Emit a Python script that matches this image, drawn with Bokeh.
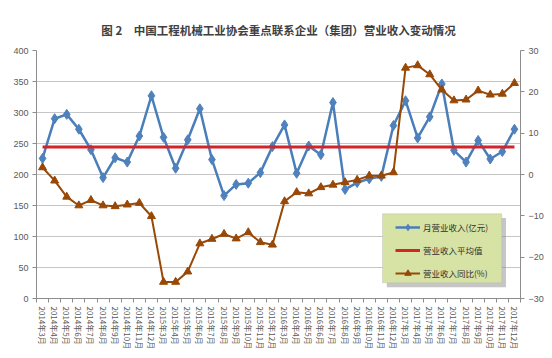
from bokeh.plotting import figure
from bokeh.models import (Range1d, LinearAxis, FixedTicker, Legend, LegendItem,
                          BoxAnnotation)
from bokeh.embed import file_html
from bokeh.resources import INLINE

# ---------------- data ----------------
years = [2014, 2015, 2016, 2017]
month_nums = [3, 4, 5, 6, 7, 8, 9, 10, 11, 12]
months = [f"{y}年{m}月" for y in years for m in month_nums]

# 月营业收入 (亿元), left axis
revenue = [226, 290, 297, 273, 240, 195, 227, 220, 262, 327,
           260, 210, 256, 306, 224, 166, 184, 186, 203, 245,
           280, 202, 246, 232, 316, 176, 187, 193, 197, 279,
           319, 259, 293, 346, 239, 220, 255, 225, 237, 273]

# 营业收入平均值 (亿元)
avg_revenue = 244.5

# 营业收入同比 (%), right axis
yoy = [1.7, -1.5, -5.4, -7.5, -6.2, -7.5, -7.7, -7.3, -6.9, -10.1,
       -26.0, -26.0, -23.5, -16.7, -15.6, -14.4, -15.5, -14.0, -16.4, -17.0,
       -6.5, -4.3, -4.6, -3.1, -2.5, -1.9, -1.3, -0.3, -0.3, 0.5,
       25.8, 26.4, 24.2, 20.5, 17.9, 18.1, 20.3, 19.3, 19.5, 22.1]

left_ticks = [0, 50, 100, 150, 200, 250, 300, 350, 400]
right_ticks = [-30, -20, -10, 0, 10, 20, 30]

title_text = "图 2　中国工程机械工业协会重点联系企业（集团）营业收入变动情况"
legend_labels = ["月营业收入(亿元)", "营业收入平均值", "营业收入同比(%)"]

# ---------------- styles ----------------
BLUE = "#4a7ebb"
RED = "#d0252b"
BROWN = "#984807"
GRID = "#c6c6c6"
AXIS = "#8c8c8c"
TXT = "#595959"
CJK = "Noto Sans CJK SC"

x = list(range(len(months)))

p = figure(width=552, height=358, output_backend="svg", toolbar_location=None,
           x_range=Range1d(-0.5, len(months) - 0.5), y_range=Range1d(0, 400),
           min_border_left=36, min_border_right=32, min_border_top=50,
           min_border_bottom=60)
p.extra_y_ranges = {"pct": Range1d(-30, 30)}
p.outline_line_color = None
p.background_fill_color = "white"
p.border_fill_color = "white"

# title
p.title.text = title_text
p.title.align = "center"
p.title.text_font = CJK
p.title.text_font_size = "11.5px"
p.title.text_font_style = "bold"
p.title.text_color = "#404040"
p.title.standoff = 26

# x axis
xa = p.xaxis[0]
xa.ticker = FixedTicker(ticks=x, minor_ticks=[i - 0.5 for i in range(len(months) + 1)])
xa.major_label_overrides = {i: lbl for i, lbl in enumerate(months)}
xa.major_label_orientation = "vertical"
xa.major_label_text_font = CJK
xa.major_label_text_font_size = "8px"
xa.major_label_text_color = TXT
xa.major_tick_line_color = None
xa.major_tick_out = 0
xa.minor_tick_in = 0
xa.minor_tick_out = 4
xa.minor_tick_line_color = AXIS
xa.axis_line_color = AXIS
xa.major_label_standoff = 4

# left axis
ya = p.yaxis[0]
ya.ticker = FixedTicker(ticks=left_ticks)
ya.major_label_text_font = "Liberation Sans"
ya.major_label_text_font_size = "9px"
ya.major_label_text_color = TXT
ya.axis_line_color = AXIS
ya.major_tick_line_color = AXIS
ya.major_tick_out = 4
ya.major_tick_in = 0
ya.minor_tick_line_color = None
ya.major_label_standoff = 4

# right axis
ra = LinearAxis(y_range_name="pct", ticker=FixedTicker(ticks=right_ticks))
ra.major_label_text_font = "Liberation Sans"
ra.major_label_text_font_size = "9px"
ra.major_label_text_color = TXT
ra.axis_line_color = AXIS
ra.major_tick_line_color = AXIS
ra.major_tick_out = 4
ra.major_tick_in = 0
ra.minor_tick_line_color = None
ra.major_label_standoff = 4
p.add_layout(ra, "right")

p.xgrid.visible = False
p.ygrid.ticker = FixedTicker(ticks=left_ticks)
p.ygrid.grid_line_color = GRID
p.ygrid.grid_line_width = 1

# series
r_blue_l = p.line(x, revenue, line_color=BLUE, line_width=2.5)
r_blue_m = p.scatter(x, revenue, marker="diamond", size=10,
                     fill_color="#4f81bd", line_color="#4f81bd")
r_red = p.line(x, [avg_revenue] * len(x), line_color=RED, line_width=3)
r_br_l = p.line(x, yoy, y_range_name="pct", line_color=BROWN, line_width=2)
r_br_m = p.scatter(x, yoy, y_range_name="pct", marker="triangle", size=8,
                   fill_color=BROWN, line_color=BROWN)

# legend box with shadow (data units of x / left axis)
shadow = BoxAnnotation(left=28.45, right=38.3, top=130, bottom=18,
                       fill_color="#808080", fill_alpha=0.45, line_color=None,
                       level="overlay")
box = BoxAnnotation(left=28.1, right=37.95, top=136.6, bottom=25.3,
                    fill_color="#d7e3a5", fill_alpha=1.0, line_color="#a8a8a8",
                    line_width=1, level="overlay")
p.add_layout(shadow)
p.add_layout(box)

legend = Legend(items=[
    LegendItem(label=legend_labels[0], renderers=[r_blue_l, r_blue_m]),
    LegendItem(label=legend_labels[1], renderers=[r_red]),
    LegendItem(label=legend_labels[2], renderers=[r_br_l, r_br_m]),
], location=(359, 17))
legend.background_fill_alpha = 0
legend.border_line_color = None
legend.padding = 3
legend.spacing = 7
legend.glyph_width = 25
legend.glyph_height = 16
legend.label_height = 16
legend.label_standoff = 3
legend.label_text_font = CJK
legend.label_text_font_size = "8.5px"
legend.label_text_color = "#303030"
legend.margin = 0
p.add_layout(legend)

open("out.html", "w").write(file_html(p, INLINE))
